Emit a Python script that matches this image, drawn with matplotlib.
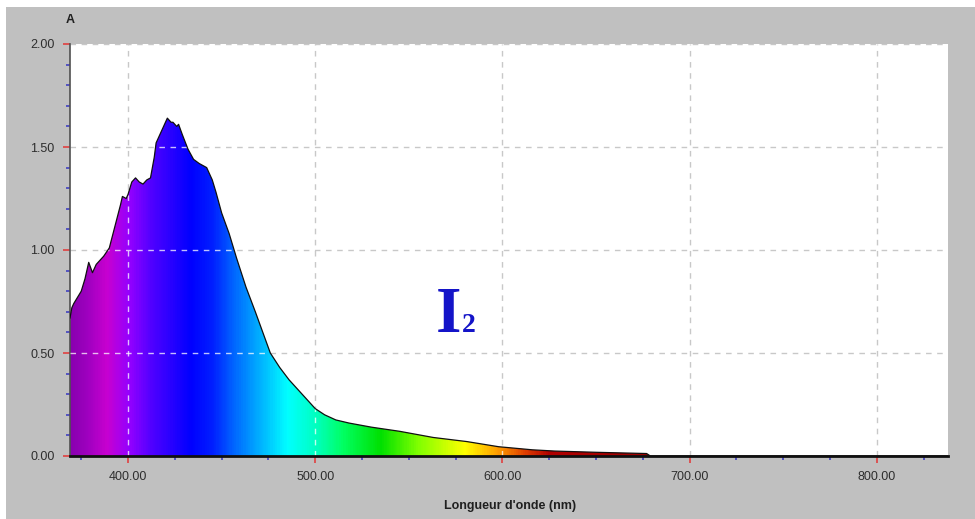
import matplotlib
matplotlib.use('Agg')
import matplotlib.pyplot as plt
import numpy as np
from matplotlib.colors import LinearSegmentedColormap
from matplotlib.patches import Rectangle
from matplotlib.ticker import MultipleLocator, FormatStrFormatter

# absorption spectrum of I2
wavelength = [369, 370, 371, 373, 375, 377, 379, 381, 383, 385, 387, 390, 392, 394,
              396, 397, 399, 400, 402, 404, 406, 408, 410, 412, 414, 415, 417, 419,
              421, 423, 424, 426, 427, 429, 432, 435, 438, 442, 445, 447, 450, 454,
              458, 463, 468, 472, 476, 481, 486, 492, 496, 500, 505, 511, 518, 530,
              545, 563, 581, 598, 616, 628, 650, 677, 679, 838]
absorbance = [0.67, 0.72, 0.74, 0.77, 0.80, 0.86, 0.94, 0.89, 0.93, 0.95, 0.97, 1.01, 1.08, 1.15,
              1.22, 1.26, 1.25, 1.27, 1.33, 1.35, 1.33, 1.32, 1.34, 1.35, 1.45, 1.52, 1.56, 1.60,
              1.64, 1.62, 1.62, 1.60, 1.61, 1.56, 1.49, 1.44, 1.42, 1.40, 1.34, 1.28, 1.18, 1.08,
              0.96, 0.82, 0.70, 0.60, 0.50, 0.43, 0.37, 0.31, 0.27, 0.23, 0.20, 0.175, 0.16, 0.14,
              0.12, 0.09, 0.07, 0.045, 0.03, 0.024, 0.018, 0.012, 0.0, 0.0]

# visible spectrum colours used for the fill
spec_nm = [369, 378, 388, 400, 412, 433, 445, 455, 470, 485, 500, 515, 535, 555, 580, 597, 612, 625, 680]
spec_col = ['#8a00b0', '#a000c0', '#c800d0', '#9400ff', '#5000ff', '#0000ff', '#0020ff', '#0060ff',
            '#00b0ff', '#00ffff', '#00ffc0', '#00ff60', '#00e000', '#80ff00', '#ffff00', '#ffa000',
            '#e04000', '#b00000', '#a00000']

xmin, xmax = 369, 838
pos = [(v - spec_nm[0]) / (spec_nm[-1] - spec_nm[0]) for v in spec_nm]
cmap = LinearSegmentedColormap.from_list('spec', list(zip(pos, spec_col)))

fig = plt.figure(figsize=(9.75, 5.19), dpi=100, facecolor='white')
fig.patches.append(Rectangle((6 / 975, 0), 1, 1 - 7 / 519, transform=fig.transFigure,
                             facecolor='#c0c0c0', edgecolor='none', zorder=-10))
ax = fig.add_axes([70 / 975, 63 / 519, 878 / 975, 412 / 519])
ax.set_facecolor('white')
ax.set_xlim(xmin, xmax)
ax.set_ylim(0, 2)

x = np.array(wavelength, dtype=float)
y = np.array(absorbance)

# grid under the fill
for gx in [400, 500, 600, 700, 800]:
    ax.axvline(gx, color='#c8c8c8', ls=(0, (4, 4)), lw=1, zorder=1)
for gy in [0.5, 1.0, 1.5, 2.0]:
    ax.axhline(gy, color='#c8c8c8', ls=(0, (4, 4)), lw=1, zorder=1)

poly = ax.fill_between(x, 0, y, facecolor='none', edgecolor='none')
clip = poly.get_paths()[0]

grad = np.linspace(spec_nm[0], spec_nm[-1], 600).reshape(1, -1)
im = ax.imshow(grad, cmap=cmap, aspect='auto', extent=[spec_nm[0], spec_nm[-1], 0, 2],
               origin='lower', zorder=2, interpolation='bilinear')
im.set_clip_path(clip, transform=ax.transData)

# light grid over the fill
for gx in [400, 500, 600]:
    l = ax.axvline(gx, color='white', ls=(0, (4, 4)), lw=1, alpha=0.75, zorder=3)
    l.set_clip_path(clip, transform=ax.transData)
for gy in [0.5, 1.0, 1.5]:
    l = ax.axhline(gy, color='white', ls=(0, (4, 4)), lw=1, alpha=0.75, zorder=3)
    l.set_clip_path(clip, transform=ax.transData)

ax.plot(x, y, color='#101010', lw=0.9, zorder=4)
ax.set_xlim(xmin, xmax)
ax.set_ylim(0, 2)

for s in ['top', 'right']:
    ax.spines[s].set_visible(False)
ax.spines['left'].set_color('#505050')
ax.spines['left'].set_linewidth(1.2)
ax.spines['bottom'].set_color('#101010')
ax.spines['bottom'].set_linewidth(2)
ax.spines['bottom'].set_zorder(5)

ax.xaxis.set_major_locator(MultipleLocator(100))
ax.xaxis.set_minor_locator(MultipleLocator(25))
ax.yaxis.set_major_locator(MultipleLocator(0.5))
ax.yaxis.set_minor_locator(MultipleLocator(0.1))
ax.xaxis.set_major_formatter(FormatStrFormatter('%.2f'))
ax.yaxis.set_major_formatter(FormatStrFormatter('%.2f'))
ax.tick_params(which='major', direction='out', length=5, width=1.2, color='#e04040',
               labelsize=9, labelcolor='#2e2e2e', pad=6)
ax.tick_params(which='minor', direction='out', length=3, width=1.2, color='#4040c0')
for lab in ax.get_xticklabels() + ax.get_yticklabels():
    lab.set_family(['Liberation Sans', 'DejaVu Sans'])

fig.text(70 / 975, 1 - 20 / 519, 'A', ha='center', va='center', fontsize=9,
         fontweight='bold', color='#202020', family=['Liberation Sans', 'DejaVu Sans'])
fig.text(510 / 975, 1 - 506 / 519, "Longueur d'onde (nm)", ha='center', va='center',
         fontsize=9, fontweight='bold', color='#202020', family=['Liberation Sans', 'DejaVu Sans'])

# label I2 placed in figure pixels
fig.text(436 / 975, 1 - 332 / 519, 'I', fontsize=47, fontweight='bold', zorder=10,
         color='#1414c8', family=['Liberation Serif', 'DejaVu Serif'], ha='left', va='baseline')
fig.text(462 / 975, 1 - 332 / 519, '2', fontsize=20, fontweight='bold', zorder=10,
         color='#1414c8', family=['Liberation Serif', 'DejaVu Serif'], ha='left', va='baseline')

fig.savefig('out.png', dpi=100, facecolor=fig.get_facecolor())
